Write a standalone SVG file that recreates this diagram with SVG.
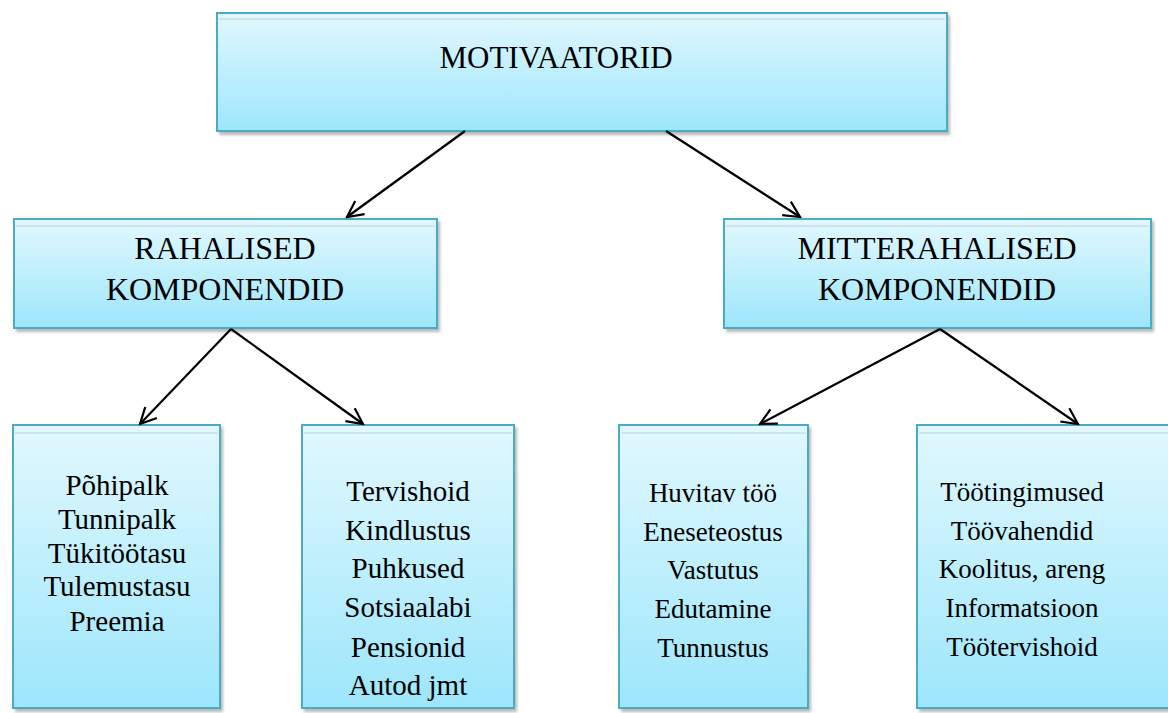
<svg xmlns="http://www.w3.org/2000/svg" width="1168" height="713" viewBox="0 0 1168 713">
<defs>
<linearGradient id="g" x1="0" y1="0" x2="0" y2="1">
<stop offset="0" stop-color="#e2f8fe"/>
<stop offset="1" stop-color="#9de6fb"/>
</linearGradient>
<filter id="sh" x="-5%" y="-5%" width="115%" height="115%">
<feGaussianBlur stdDeviation="1.5"/>
</filter>
<marker id="ah" markerWidth="20" markerHeight="20" viewBox="-18 -10 20 20" refX="0" refY="0" orient="auto" markerUnits="userSpaceOnUse">
<path d="M-16,-8 L0,0 L-16,8" fill="none" stroke="#000" stroke-width="2.2"/>
</marker>
</defs>
<style>
.sh{fill:#9a9a9a;filter:url(#sh);opacity:0.7}
.box{fill:url(#g);stroke:#4aabc5;stroke-width:2}
.hl{stroke:#cfe3ea;stroke-width:2}
text{fill:#000;text-anchor:middle}
.top{font-size:31px}
.big{font-size:32px}
.sm{font-size:29px}
.xs{font-size:27px}
.c{stroke:#000;stroke-width:2.2;fill:none;marker-end:url(#ah)}
</style>
<rect width="1168" height="713" fill="#fff"/>
<g id="motivaatorid">
<rect class="sh" x="219" y="15" width="731" height="120"/>
<rect class="box" x="217" y="13" width="730" height="118"/>
<line class="hl" x1="219" y1="19" x2="945" y2="19"/>
<text class="top" x="556" y="68" font-family="Liberation Serif">MOTIVAATORID</text>
</g>
<g id="rahalised">
<rect class="sh" x="16" y="221" width="424" height="111"/>
<rect class="box" x="14" y="219" width="423" height="109"/>
<line class="hl" x1="16" y1="226" x2="435" y2="226"/>
<text class="big" x="225" y="259" font-family="Liberation Serif">RAHALISED</text>
<text class="big" x="225" y="300" font-family="Liberation Serif">KOMPONENDID</text>
</g>
<g id="mitterahalised">
<rect class="sh" x="726" y="221" width="428" height="111"/>
<rect class="box" x="724" y="219" width="427" height="109"/>
<line class="hl" x1="726" y1="226" x2="1149" y2="226"/>
<text class="big" x="937" y="259" font-family="Liberation Serif">MITTERAHALISED</text>
<text class="big" x="937" y="300" font-family="Liberation Serif">KOMPONENDID</text>
</g>
<g id="rahalised-pohi">
<rect class="sh" x="15" y="427" width="208" height="285"/>
<rect class="box" x="13" y="425" width="207" height="283"/>
<line class="hl" x1="15" y1="433" x2="218" y2="433"/>
<text class="sm" x="117" y="495" font-family="Liberation Serif">Põhipalk</text>
<text class="sm" x="117" y="529" font-family="Liberation Serif">Tunnipalk</text>
<text class="sm" x="117" y="563" font-family="Liberation Serif">Tükitöötasu</text>
<text class="sm" x="117" y="596" font-family="Liberation Serif">Tulemustasu</text>
<text class="sm" x="117" y="631" font-family="Liberation Serif">Preemia</text>
</g>
<g id="rahalised-lisa">
<rect class="sh" x="304" y="427" width="213" height="285"/>
<rect class="box" x="302" y="425" width="212" height="283"/>
<line class="hl" x1="304" y1="433" x2="512" y2="433"/>
<text class="sm" x="408" y="501" font-family="Liberation Serif">Tervishoid</text>
<text class="sm" x="408" y="540" font-family="Liberation Serif">Kindlustus</text>
<text class="sm" x="408" y="578" font-family="Liberation Serif">Puhkused</text>
<text class="sm" x="408" y="617" font-family="Liberation Serif">Sotsiaalabi</text>
<text class="sm" x="408" y="657" font-family="Liberation Serif">Pensionid</text>
<text class="sm" x="408" y="695" font-family="Liberation Serif">Autod jmt</text>
</g>
<g id="mitterahalised-sisu">
<rect class="sh" x="621" y="427" width="190" height="285"/>
<rect class="box" x="619" y="425" width="189" height="283"/>
<line class="hl" x1="621" y1="433" x2="806" y2="433"/>
<text class="xs" x="713" y="502" font-family="Liberation Serif">Huvitav töö</text>
<text class="xs" x="713" y="541" font-family="Liberation Serif">Eneseteostus</text>
<text class="xs" x="713" y="579" font-family="Liberation Serif">Vastutus</text>
<text class="xs" x="713" y="618" font-family="Liberation Serif">Edutamine</text>
<text class="xs" x="713" y="657" font-family="Liberation Serif">Tunnustus</text>
</g>
<g id="mitterahalised-keskkond">
<rect class="sh" x="919" y="427" width="260" height="285"/>
<rect class="box" x="917" y="425" width="260" height="283"/>
<line class="hl" x1="919" y1="433" x2="1168" y2="433"/>
<text class="xs" x="1022" y="501" font-family="Liberation Serif">Töötingimused</text>
<text class="xs" x="1022" y="540" font-family="Liberation Serif">Töövahendid</text>
<text class="xs" x="1022" y="578" font-family="Liberation Serif">Koolitus, areng</text>
<text class="xs" x="1022" y="617" font-family="Liberation Serif">Informatsioon</text>
<text class="xs" x="1022" y="656" font-family="Liberation Serif">Töötervishoid</text>
</g>
<g id="connectors">
<line class="c" x1="465" y1="131" x2="347" y2="217"/>
<line class="c" x1="666" y1="131" x2="800" y2="217"/>
<line class="c" x1="231" y1="329" x2="140" y2="424"/>
<line class="c" x1="231" y1="329" x2="363" y2="424"/>
<line class="c" x1="940" y1="329" x2="760" y2="424"/>
<line class="c" x1="940" y1="329" x2="1078" y2="424"/>
</g>
</svg>
